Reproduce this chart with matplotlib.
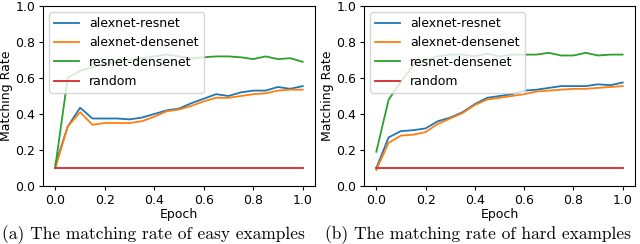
import numpy as np
from matplotlib import pyplot as plt

epochs = np.linspace(0.0, 1.0, 21)

easy_alex_res = [0.12, 0.33, 0.435, 0.375, 0.375, 0.375, 0.37, 0.38, 0.40, 0.42, 0.43,
                 0.46, 0.485, 0.51, 0.50, 0.52, 0.53, 0.53, 0.55, 0.54, 0.555]
easy_alex_dense = [0.10, 0.33, 0.41, 0.34, 0.35, 0.35, 0.35, 0.36, 0.385, 0.415, 0.425,
                   0.445, 0.47, 0.49, 0.49, 0.50, 0.51, 0.515, 0.53, 0.535, 0.535]
easy_res_dense = [0.11, 0.60, 0.64, 0.66, 0.68, 0.69, 0.70, 0.71, 0.72, 0.73, 0.72,
                  0.71, 0.715, 0.72, 0.72, 0.715, 0.705, 0.72, 0.705, 0.71, 0.69]

hard_alex_res = [0.10, 0.27, 0.305, 0.31, 0.32, 0.36, 0.38, 0.41, 0.455, 0.49, 0.50,
                 0.51, 0.53, 0.535, 0.545, 0.555, 0.555, 0.555, 0.565, 0.56, 0.575]
hard_alex_dense = [0.09, 0.24, 0.28, 0.285, 0.30, 0.345, 0.375, 0.405, 0.45, 0.48, 0.49,
                   0.50, 0.51, 0.525, 0.53, 0.535, 0.54, 0.54, 0.545, 0.55, 0.555]
hard_res_dense = [0.19, 0.48, 0.58, 0.67, 0.70, 0.72, 0.73, 0.73, 0.72, 0.735, 0.72,
                  0.73, 0.73, 0.73, 0.74, 0.725, 0.725, 0.74, 0.725, 0.73, 0.73]

random_rate = 0.1

captions = ["(a) The matching rate of easy examples",
            "(b) The matching rate of hard examples"]

fig = plt.figure(figsize=(6.4, 2.44), dpi=100)
ax1 = fig.add_axes([43 / 640, 1 - 186 / 244, 272 / 640, 180 / 244])
ax2 = fig.add_axes([364 / 640, 1 - 186 / 244, 271 / 640, 180 / 244])

panels = [(ax1, easy_alex_res, easy_alex_dense, easy_res_dense),
          (ax2, hard_alex_res, hard_alex_dense, hard_res_dense)]
caption_x = [153 / 640, 478 / 640]

for i, (ax, ar, ad, rd) in enumerate(panels):
    ax.plot(epochs, ar, color="#1f77b4", lw=1.3, label="alexnet-resnet")
    ax.plot(epochs, ad, color="#ff7f0e", lw=1.3, label="alexnet-densenet")
    ax.plot(epochs, rd, color="#2ca02c", lw=1.3, label="resnet-densenet")
    ax.plot(epochs, np.full(len(epochs), random_rate), color="#d62728", lw=1.3, label="random")
    ax.set_ylim(0, 1.0)
    ax.set_xticks([0.0, 0.2, 0.4, 0.6, 0.8, 1.0])
    ax.set_yticks([0.0, 0.2, 0.4, 0.6, 0.8, 1.0])
    ax.tick_params(labelsize=9, length=3, pad=2.5)
    ax.set_xlabel("Epoch", fontsize=9, labelpad=1)
    ax.set_ylabel("Matching Rate", fontsize=9, labelpad=2)
    ax.legend(loc="upper left", fontsize=9)
    fig.text(caption_x[i], 1 - 235 / 244, captions[i],
             ha="center", va="center", fontsize=12.5, family="cmr10")

plt.savefig("out.png", dpi=100)
